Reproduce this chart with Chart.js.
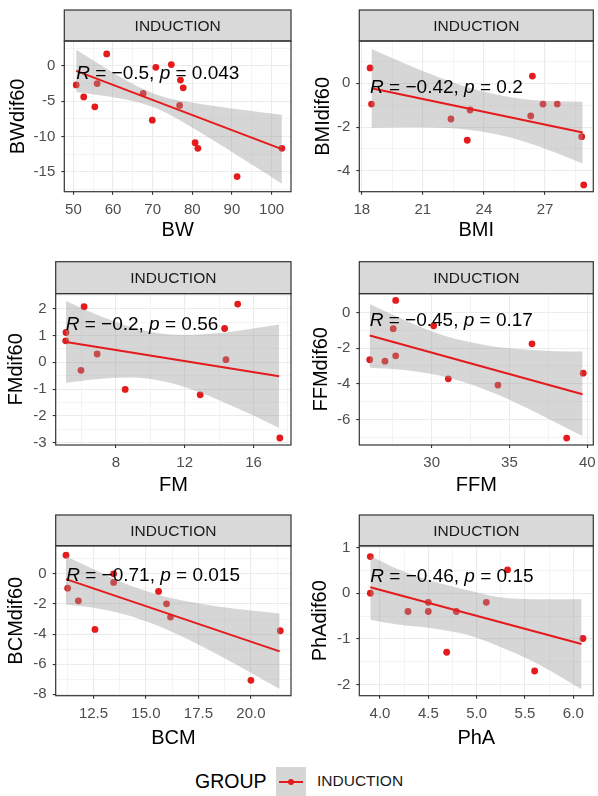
<!DOCTYPE html>
<html>
<head>
<meta charset="utf-8">
<script src="https://cdn.jsdelivr.net/npm/chart.js@4.4.1/dist/chart.umd.min.js"></script>
<style>
  html, body { margin: 0; padding: 0; background: #fff; }
  body { width: 598px; height: 796px; position: relative; overflow: hidden; font-family: "Liberation Sans", Arial, sans-serif; }
  canvas { position: absolute; }
  .lg { position: absolute; top: 766px; height: 30px; line-height: 30px; white-space: nowrap; }
  .key { position: absolute; top: 767px; left: 276px; width: 30px; height: 29px; background: #D6D6D6; }
  .key .ln { position: absolute; left: 3px; right: 3px; top: 14px; height: 2px; background: #E41A1C; }
  .key .pt { position: absolute; left: 12px; top: 12px; width: 6px; height: 6px; border-radius: 50%; background: #E41A1C; }
</style>
</head>
<body>
<div class="lg" style="left:195px;font-size:19.5px;color:#000">GROUP</div>
<div class="key"><div class="ln"></div><div class="pt"></div></div>
<div class="lg" style="left:317px;font-size:15.5px;color:#1A1A1A">INDUCTION</div>
<script>
// ---- data ----
const group = 'INDUCTION';

const bwX = [50.7, 52.6, 55.4, 56.0, 58.4, 67.6, 69.9, 70.8, 74.7, 77.0, 76.8, 77.7, 80.7, 81.4, 91.3, 102.6];
const bwY = [-2.7, -4.4, -5.8, -2.5, 1.7, -3.9, -7.7, -0.2, 0.2, -2.0, -5.6, -3.1, -10.9, -11.7, -15.7, -11.7];
const bwFitX = [50.7, 102.6];
const bwFitY = [-0.7, -11.8];
const bwBandX = [50.7, 58, 65, 72, 79, 86, 94, 102.6];
const bwBandHi = [2.3, -0.26, -2.56, -4.26, -5.13, -5.71, -6.32, -6.92];
const bwBandLo = [-3.7, -4.28, -4.98, -6.28, -8.41, -10.81, -13.64, -16.72];
const bwXTicks = ['50', '60', '70', '80', '90', '100'];
const bwYTicks = ['-15', '-10', '-5', '0'];
const bwXRange = [47.7, 104.9];
const bwYRange = [-17.85, 3.54];
const bwStat = ['\u22120.5', '0.043'];
const bwStatPos = [50.7, -1.84];

const bmiX = [18.41, 18.48, 22.38, 23.18, 23.32, 26.3, 26.38, 26.9, 27.6, 28.8, 28.9];
const bmiY = [0.7, -0.95, -1.63, -2.6, -1.22, -1.49, 0.33, -0.95, -0.95, -2.44, -4.64];
const bmiFitX = [18.48, 28.85];
const bmiFitY = [-0.23, -2.25];
const bmiBandX = [18.48, 20, 21.5, 23, 24.6, 26, 27.5, 28.85];
const bmiBandHi = [1.57, 0.95, 0.38, -0.12, -0.51, -0.73, -0.82, -0.84];
const bmiBandLo = [-2.03, -2.01, -2.02, -2.1, -2.33, -2.67, -3.16, -3.66];
const bmiXTicks = ['18', '21', '24', '27'];
const bmiYTicks = ['-4', '-2', '0'];
const bmiXRange = [17.88, 29.37];
const bmiYRange = [-4.95, 1.93];
const bmiStat = ['\u22120.42', '0.2'];
const bmiStatPos = [18.41, -0.43];

const fmX = [5.1, 5.08, 6.15, 5.97, 6.91, 8.54, 12.9, 14.32, 14.4, 15.08, 17.53];
const fmY = [1.11, 0.8, 2.07, -0.3, 0.31, -1.01, -1.21, 1.26, 0.1, 2.17, -2.82];
const fmFitX = [5.1, 17.49];
const fmFitY = [0.76, -0.52];
const fmBandX = [5.1, 7, 9, 10.5, 12, 14, 16, 17.49];
const fmBandHi = [2.28, 1.74, 1.29, 1.08, 1.02, 1.09, 1.26, 1.41];
const fmBandLo = [-0.76, -0.62, -0.57, -0.68, -0.92, -1.41, -1.98, -2.45];
const fmXTicks = ['8', '12', '16'];
const fmYTicks = ['-3', '-2', '-1', '0', '1', '2'];
const fmXRange = [4.5, 18.18];
const fmYRange = [-3.08, 2.56];
const fmStat = ['\u22120.2', '0.56'];
const fmStatPos = [5.08, 1.21];

const ffmX = [26.02, 27.0, 27.53, 27.69, 27.69, 30.13, 31.07, 34.26, 36.45, 38.68, 39.74];
const ffmY = [-2.65, -2.73, -0.91, 0.67, -2.43, -0.75, -3.72, -4.07, -1.76, -7.03, -3.4];
const ffmFitX = [26.02, 39.7];
const ffmFitY = [-1.29, -4.58];
const ffmBandX = [26.02, 28, 30, 32, 34, 36, 38, 39.7];
const ffmBandHi = [0.47, -0.33, -1.05, -1.58, -1.91, -2.08, -2.17, -2.19];
const ffmBandLo = [-3.1, -3.21, -3.45, -3.88, -4.51, -5.3, -6.17, -6.92];
const ffmXTicks = ['30', '35', '40'];
const ffmYTicks = ['-6', '-4', '-2', '0'];
const ffmXRange = [25.35, 40.39];
const ffmYRange = [-7.42, 1.05];
const ffmStat = ['\u22120.45', '0.17'];
const ffmStatPos = [26.02, -0.79];

const bcmX = [11.19, 11.27, 11.78, 12.57, 13.46, 13.46, 15.6, 15.98, 16.17, 20.0, 21.4];
const bcmY = [1.24, -0.95, -1.79, -3.69, 0.0, -0.57, -1.17, -1.99, -2.87, -7.07, -3.78];
const bcmFitX = [11.19, 21.37];
const bcmFitY = [-0.35, -5.15];
const bcmBandX = [11.19, 12.5, 14, 15.5, 17, 18.5, 20, 21.37];
const bcmBandHi = [1.17, 0.31, -0.64, -1.35, -1.84, -2.18, -2.44, -2.63];
const bcmBandLo = [-2.03, -2.25, -2.7, -3.41, -4.34, -5.42, -6.56, -7.65];
const bcmXTicks = ['12.5', '15.0', '17.5', '20.0'];
const bcmYTicks = ['-8', '-6', '-4', '-2', '0'];
const bcmXRange = [10.7, 21.91];
const bcmYRange = [-8.09, 1.86];
const bcmStat = ['\u22120.71', '0.015'];
const bcmStatPos = [11.2, -0.46];

const phaX = [3.9, 3.9, 4.29, 4.5, 4.5, 4.69, 4.79, 5.1, 5.32, 5.6, 6.1];
const phaY = [0.8, 0.0, -0.4, -0.2, -0.4, -1.29, -0.4, -0.2, 0.51, -1.7, -0.99];
const phaFitX = [3.9, 6.085];
const phaFitY = [0.13, -1.11];
const phaBandX = [3.9, 4.2, 4.55, 4.9, 5.24, 5.59, 6.085];
const phaBandHi = [0.82, 0.51, 0.26, 0.07, -0.09, -0.13, -0.13];
const phaBandLo = [-0.58, -0.69, -0.77, -0.91, -1.17, -1.5, -2.1];
const phaXTicks = ['4.0', '4.5', '5.0', '5.5', '6.0'];
const phaYTicks = ['-2', '-1', '0', '1'];
const phaXRange = [3.786, 6.207];
const phaYRange = [-2.24, 1.036];
const phaStat = ['\u22120.46', '0.15'];
const phaStatPos = [3.9, 0.25];

// ---- look ----
const RED = '#E41A1C';
const FONT = '"Liberation Sans", Arial, sans-serif';
Chart.defaults.font.family = FONT;

const panels = [
  { xs: bwX, ys: bwY, fx: bwFitX, fy: bwFitY, bx: bwBandX, hi: bwBandHi, lo: bwBandLo,
    xt: bwXTicks, yt: bwYTicks, xr: bwXRange, yr: bwYRange, xTitle: 'BW', yTitle: 'BWdif60', stat: bwStat, at: bwStatPos,
    box: { left: 0, top: 0, w: 298, h: 250 }, lay: { yw: 64.3, right: 7, top: 41, strip: 10, xh: 50.3, bottom: 8, tpad: 6 } },
  { xs: bmiX, ys: bmiY, fx: bmiFitX, fy: bmiFitY, bx: bmiBandX, hi: bmiBandHi, lo: bmiBandLo,
    xt: bmiXTicks, yt: bmiYTicks, xr: bmiXRange, yr: bmiYRange, xTitle: 'BMI', yTitle: 'BMIdif60', stat: bmiStat, at: bmiStatPos,
    box: { left: 300, top: 0, w: 298, h: 250 }, lay: { yw: 59.3, right: 4.7, top: 41, strip: 10, xh: 50.3, bottom: 8, tpad: 11.3 } },
  { xs: fmX, ys: fmY, fx: fmFitX, fy: fmFitY, bx: fmBandX, hi: fmBandHi, lo: fmBandLo,
    xt: fmXTicks, yt: fmYTicks, xr: fmXRange, yr: fmYRange, xTitle: 'FM', yTitle: 'FMdif60', stat: fmStat, at: fmStatPos,
    box: { left: 0, top: 250, w: 298, h: 255 }, lay: { yw: 55.7, right: 7, top: 43.6, strip: 11.7, xh: 52, bottom: 8, tpad: 4.7 } },
  { xs: ffmX, ys: ffmY, fx: ffmFitX, fy: ffmFitY, bx: ffmBandX, hi: ffmBandHi, lo: ffmBandLo,
    xt: ffmXTicks, yt: ffmYTicks, xr: ffmXRange, yr: ffmYRange, xTitle: 'FFM', yTitle: 'FFMdif60', stat: ffmStat, at: ffmStatPos,
    box: { left: 300, top: 250, w: 298, h: 255 }, lay: { yw: 59.3, right: 4.7, top: 43.6, strip: 11.7, xh: 52, bottom: 8, tpad: 9.7 } },
  { xs: bcmX, ys: bcmY, fx: bcmFitX, fy: bcmFitY, bx: bcmBandX, hi: bcmBandHi, lo: bcmBandLo,
    xt: bcmXTicks, yt: bcmYTicks, xr: bcmXRange, yr: bcmYRange, xTitle: 'BCM', yTitle: 'BCMdif60', stat: bcmStat, at: bcmStatPos,
    box: { left: 0, top: 505, w: 298, h: 255 }, lay: { yw: 55.7, right: 7, top: 40.8, strip: 10, xh: 54.6, bottom: 9.7, tpad: 4.7 } },
  { xs: phaX, ys: phaY, fx: phaFitX, fy: phaFitY, bx: phaBandX, hi: phaBandHi, lo: phaBandLo,
    xt: phaXTicks, yt: phaYTicks, xr: phaXRange, yr: phaYRange, xTitle: 'PhA', yTitle: 'PhAdif60', stat: phaStat, at: phaStatPos,
    box: { left: 300, top: 505, w: 298, h: 255 }, lay: { yw: 59.3, right: 4.7, top: 40.8, strip: 10, xh: 54.6, bottom: 9.7, tpad: 8.7 } },
];

// strip on top, panel border, and the R/p label
const facetPlugin = {
  id: 'facet',
  afterDatasetsDraw(chart, args, opts) {
    const { ctx, scales } = chart;
    let x = scales.x.getPixelForValue(opts.at[0]);
    const y = scales.y.getPixelForValue(opts.at[1]);
    const parts = [['R', true], [' = ' + opts.stat[0] + ', ', false], ['p', true], [' = ' + opts.stat[1], false]];
    ctx.save();
    ctx.fillStyle = '#000';
    ctx.textBaseline = 'alphabetic';
    ctx.textAlign = 'left';
    parts.forEach(([t, italic]) => {
      ctx.font = (italic ? 'italic ' : '') + '19px ' + FONT;
      ctx.fillText(t, x, y);
      x += ctx.measureText(t).width;
    });
    ctx.restore();
  },
  afterDraw(chart, args, opts) {
    const { ctx, chartArea: a } = chart;
    const w = a.right - a.left;
    ctx.save();
    ctx.fillStyle = '#D9D9D9';
    ctx.fillRect(a.left, opts.strip, w, a.top - opts.strip);
    ctx.strokeStyle = '#333333';
    ctx.lineWidth = 1.2;
    ctx.strokeRect(a.left, opts.strip, w, a.top - opts.strip);
    ctx.strokeRect(a.left, a.top, w, a.bottom - a.top);
    ctx.fillStyle = '#1A1A1A';
    ctx.font = '15.5px ' + FONT;
    ctx.textAlign = 'center';
    ctx.textBaseline = 'middle';
    ctx.fillText(opts.label, (a.left + a.right) / 2, (opts.strip + a.top) / 2 + 1);
    ctx.restore();
  }
};

function tickSet(labels, range) {
  const major = labels.map(Number);
  const step = major[1] - major[0];
  const minor = [major[0] - step / 2, ...major.map(v => v + step / 2)].filter(v => v > range[0] && v < range[1]);
  return { values: [...major, ...minor].sort((a, b) => a - b), names: new Map(major.map((v, i) => [v, labels[i]])) };
}

function axis(labels, range, title, size, isX, tpad) {
  const t = tickSet(labels, range);
  const isMajor = c => c.tick && t.names.has(c.tick.value);
  return {
    type: 'linear',
    position: isX ? 'bottom' : 'left',
    min: range[0],
    max: range[1],
    afterBuildTicks: s => { s.ticks = t.values.map(v => ({ value: v })); },
    afterFit: s => {
      if (isX) s.height = size; else s.width = size;
      s.paddingLeft = 0; s.paddingRight = 0; s.paddingTop = 0; s.paddingBottom = 0;
    },
    ticks: {
      autoSkip: false, maxRotation: 0, minRotation: 0,
      padding: isX ? 6 : 6,
      color: '#4D4D4D',
      font: { size: 15 },
      callback: v => t.names.get(v) ?? ''
    },
    grid: {
      color: '#EBEBEB',
      lineWidth: c => isMajor(c) ? 1.1 : 0.55,
      tickColor: c => isMajor(c) ? '#333333' : 'rgba(0,0,0,0)',
      tickLength: 3,
      tickWidth: 1.1
    },
    border: { display: false },
    title: {
      display: true, text: title, color: '#000',
      font: { size: 20 },
      padding: isX ? { top: 0, bottom: 0 } : { top: tpad, bottom: 0 }
    }
  };
}

panels.forEach(p => {
  const cv = document.createElement('canvas');
  cv.width = p.box.w;
  cv.height = p.box.h;
  cv.style.left = p.box.left + 'px';
  cv.style.top = p.box.top + 'px';
  document.body.appendChild(cv);

  const pts = p.xs.map((x, i) => ({ x, y: p.ys[i] }));
  const hi = p.bx.map((x, i) => ({ x, y: p.hi[i] }));
  const lo = p.bx.map((x, i) => ({ x, y: p.lo[i] }));
  const fit = p.fx.map((x, i) => ({ x, y: p.fy[i] }));

  new Chart(cv, {
    type: 'scatter',
    data: {
      datasets: [
        { type: 'scatter', data: pts, backgroundColor: RED, borderWidth: 0, pointRadius: 3.4, order: 3 },
        { type: 'line', data: hi, fill: '+1', backgroundColor: 'rgba(153,153,153,0.4)', borderColor: 'rgba(0,0,0,0)',
          borderWidth: 0, pointRadius: 0, cubicInterpolationMode: 'monotone', order: 2 },
        { type: 'line', data: lo, fill: false, borderColor: 'rgba(0,0,0,0)', borderWidth: 0, pointRadius: 0,
          cubicInterpolationMode: 'monotone', order: 2 },
        { type: 'line', data: fit, fill: false, borderColor: RED, borderWidth: 2, pointRadius: 0, order: 1 }
      ]
    },
    options: {
      responsive: false,
      animation: false,
      events: [],
      layout: { padding: { left: 0, right: p.lay.right, top: p.lay.top, bottom: p.lay.bottom } },
      scales: {
        x: axis(p.xt, p.xr, p.xTitle, p.lay.xh, true, 0),
        y: axis(p.yt, p.yr, p.yTitle, p.lay.yw, false, p.lay.tpad)
      },
      plugins: {
        legend: { display: false },
        tooltip: { enabled: false },
        facet: { strip: p.lay.strip, label: group, stat: p.stat, at: p.at }
      }
    },
    plugins: [facetPlugin]
  });
});
</script>
</body>
</html>
